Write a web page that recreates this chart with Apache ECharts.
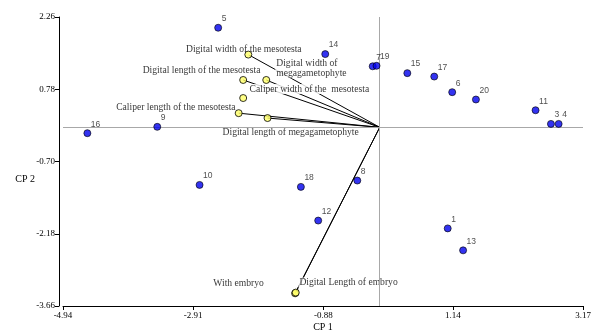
<!DOCTYPE html>
<html>
<head>
<meta charset="utf-8">
<script src="https://cdn.jsdelivr.net/npm/echarts@6/dist/echarts.min.js"></script>
<style>
  html, body { margin: 0; padding: 0; background: #fff; }
  #chart { width: 597px; height: 335px; }
</style>
</head>
<body>
<div id="chart"></div>
<script>
// ---- Data ----
const caseIds = ['1', '3', '4', '5', '6', '7', '8', '9', '10', '11', '12', '13', '14', '15', '16', '17', '18', '19', '20'];
const caseCP1 = [1.06, 2.67, 2.79, -2.52, 1.13, -0.11, -0.35, -3.47, -2.81, 2.43, -0.96, 1.30, -0.85, 0.43, -4.56, 0.85, -1.23, -0.05, 1.50];
const caseCP2 = [-2.07, 0.07, 0.07, 2.04, 0.72, 1.25, -1.09, 0.01, -1.18, 0.35, -1.91, -2.52, 1.50, 1.11, -0.12, 1.04, -1.22, 1.26, 0.57];

const variableNames = [
  'Digital width of the mesotesta',
  'Digital width of\nmegagametophyte',
  'Digital length of the mesotesta',
  'Caliper width of the  mesotesta',
  'Caliper length of the mesotesta',
  'Digital length of megagametophyte',
  'With embryo',
  'Digital Length of embryo'
];
const variableCP1 = [-2.05, -1.77, -2.13, -2.13, -2.20, -1.75, -1.32, -1.31];
const variableCP2 = [1.49, 0.97, 0.97, 0.60, 0.29, 0.19, -3.40, -3.385];
const variableHasVector = [true, true, true, false, true, true, true, true];

const xTicks = [-4.94, -2.91, -0.88, 1.14, 3.17];
const yTicks = [-3.66, -2.18, -0.70, 0.78, 2.26];
const xAxisTitle = 'CP 1';
const yAxisTitle = 'CP 2';

// ---- Label placement (styles, px offsets from the point) ----
const variableLabelOffsets = [[-4.5, -4.7], [9, -11.7], [-41.6, -9.3], [66.2, -9], [-62.8, -5.6], [23.1, 14], [-56.5, -10], [52.8, -10]];
const variableLabelAlign = ['center', 'left', 'center', 'center', 'center', 'center', 'center', 'center'];

const serif = '"Liberation Serif", "Times New Roman", serif';
const sans = '"Liberation Sans", Arial, sans-serif';

const chart = echarts.init(document.getElementById('chart'), null, { renderer: 'canvas' });

const vectorData = [];
variableNames.forEach((n, i) => {
  if (variableHasVector[i]) vectorData.push({ coords: [[0, 0], [variableCP1[i], variableCP2[i]]] });
});

const labelData = variableNames.map((n, i) => ({
  name: n,
  value: [variableCP1[i], variableCP2[i]],
  label: { offset: variableLabelOffsets[i], align: variableLabelAlign[i] }
}));

const option = {
  animation: false,
  backgroundColor: '#fff',
  grid: { left: 63, right: 14, top: 17, bottom: 29, outerBoundsMode: 'none', containLabel: false },
  xAxis: {
    type: 'value', min: -4.94, max: 3.17,
    axisLine: { onZero: false, lineStyle: { color: '#000', width: 1 } },
    axisTick: { customValues: xTicks, length: 4, lineStyle: { color: '#000' } },
    axisLabel: { customValues: xTicks, formatter: v => v.toFixed(2), fontFamily: serif, fontSize: 9, color: '#000', margin: 5 },
    splitLine: { show: false },
    name: xAxisTitle, nameLocation: 'middle', nameGap: 16, nameMoveOverlap: false,
    nameTextStyle: { fontFamily: serif, fontSize: 10, color: '#000' }
  },
  yAxis: {
    type: 'value', min: -3.66, max: 2.26, offset: 4,
    axisLine: { onZero: false, lineStyle: { color: '#000', width: 1 } },
    axisTick: { customValues: yTicks, length: 4, lineStyle: { color: '#000' } },
    axisLabel: { customValues: yTicks, formatter: v => v.toFixed(2), fontFamily: serif, fontSize: 9, color: '#000', margin: 4 },
    splitLine: { show: false },
    name: yAxisTitle, nameLocation: 'middle', nameRotate: 0, nameGap: 24, nameMoveOverlap: false,
    nameTextStyle: { fontFamily: serif, fontSize: 10, color: '#000', verticalAlign: 'top', lineHeight: 35 }
  },
  series: [
    {
      type: 'lines', coordinateSystem: 'cartesian2d', z: 2,
      lineStyle: { color: '#000', width: 1, opacity: 1 },
      data: vectorData, silent: true
    },
    {
      type: 'scatter', z: 3, symbol: 'circle', symbolSize: 1,
      itemStyle: { color: 'rgba(0,0,0,0)' },
      label: {
        show: true, position: 'inside', formatter: p => p.name,
        fontFamily: serif, fontSize: 9.6, color: '#000', lineHeight: 10,
        backgroundColor: '#fff', padding: [0, 1, 0, 1], verticalAlign: 'middle'
      },
      data: labelData, silent: true
    },
    {
      type: 'scatter', z: 4, data: [], silent: true,
      markLine: {
        silent: true, symbol: 'none', animation: false,
        label: { show: false },
        lineStyle: { color: '#a8a8a8', width: 1, type: 'solid' },
        data: [{ xAxis: 0 }, { yAxis: 0 }]
      }
    },
    {
      type: 'scatter', z: 5, symbol: 'circle', symbolSize: 7,
      itemStyle: { color: '#ffff66', borderColor: '#000', borderWidth: 1 },
      data: variableCP1.map((x, i) => [x, variableCP2[i]]), silent: true
    },
    {
      type: 'scatter', z: 6, symbol: 'circle', symbolSize: 7,
      itemStyle: { color: '#0000ee', borderColor: '#000', borderWidth: 0.8 },
      label: {
        show: true, position: 'inside', align: 'left', verticalAlign: 'middle',
        offset: [3.5, -9], formatter: p => p.name,
        fontFamily: sans, fontSize: 8.5, color: '#222'
      },
      data: caseIds.map((id, i) => ({ name: id, value: [caseCP1[i], caseCP2[i]] })), silent: true
    }
  ]
};
chart.setOption(option);
</script>
</body>
</html>
